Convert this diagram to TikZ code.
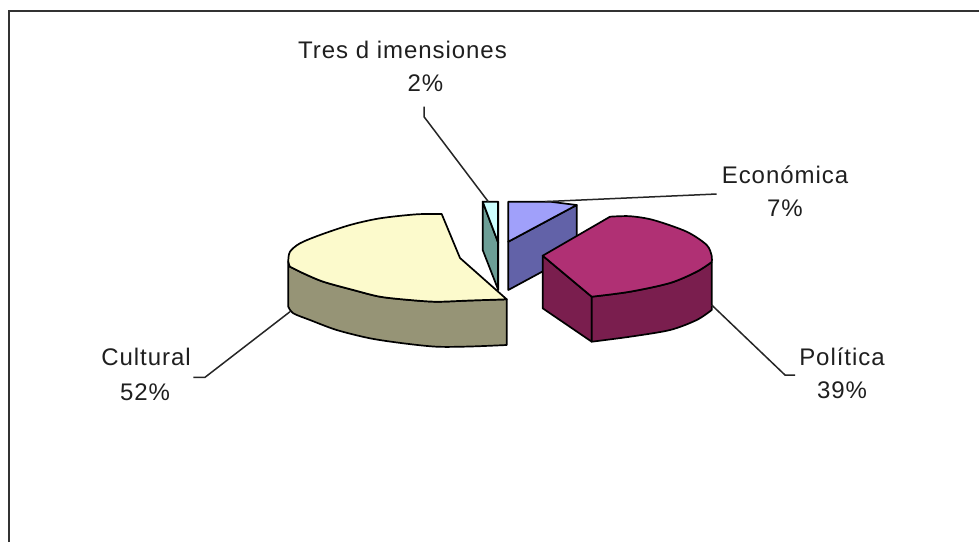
\documentclass[tikz,border=0pt]{standalone}
\usepackage{fontspec}
\setmainfont{Liberation Sans}
\begin{document}
\begin{tikzpicture}[x=1pt,y=-1pt,
  edge/.style={draw=black,line width=1.7pt,line join=round},
  leader/.style={draw=black!85,line width=1.5pt},
  lbl/.style={anchor=base,inner sep=0pt,text=black!88,
    font=\fontsize{24}{28}\selectfont\addfontfeature{LetterSpace=4}},
  frameline/.style={draw=black!80,line width=2pt}]
\definecolor{culTop}{RGB}{252,250,204}
\definecolor{culSide}{RGB}{150,148,118}
\definecolor{triTop}{RGB}{204,255,255}
\definecolor{triSide}{RGB}{108,158,150}
\definecolor{ecoTop}{RGB}{160,160,250}
\definecolor{ecoSide}{RGB}{98,98,168}
\definecolor{polTop}{RGB}{176,48,116}
\definecolor{polSide}{RGB}{122,30,78}
\useasboundingbox (0,0) rectangle (979,542);
\fill[white] (0,0) rectangle (979,542);
% frame
\draw[frameline] (9.3,542) -- (9.3,10.7) -- (979,10.7);

% ---- Cultural ----
\filldraw[edge,fill=culSide] (288.3,261.7) -- (290,266.7)
  -- plot[smooth] coordinates {(290,266.7) (303.3,273.3) (323.3,281.7) (353.3,290) (380,296.7) (410,300) (436.7,301.7) (470,300.5) (506.7,299.3)}
  -- (506.7,345)
  -- plot[smooth] coordinates {(506.7,345) (470,346.5) (436.7,346.7) (403.3,343.3) (370,338.3) (336.7,330) (310,320) (293.3,313.3) (288.3,306.7)}
  -- cycle;
\filldraw[edge,fill=culTop] (441.7,214) -- (460,258) -- (506.7,299.3)
  -- plot[smooth] coordinates {(506.7,299.3) (470,300.5) (436.7,301.7) (410,300) (380,296.7) (353.3,290) (323.3,281.7) (303.3,273.3) (290,266.7)}
  -- plot[smooth] coordinates {(290,266.7) (288.3,261.7) (290,251.7) (300,243.3) (320,235) (350,225) (380,218.3) (416.7,214.3) (441.7,214)}
  -- cycle;

% ---- Tres dimensiones ----
\filldraw[edge,fill=triSide] (482.7,201.7) -- (482.7,250) -- (498.3,290) -- (498.3,243) -- cycle;
\filldraw[edge,fill=triTop] (482.7,201.7) -- (498.3,201.7) -- (498.3,243) -- cycle;
\draw[edge] (498.3,201.7) -- (498.3,290);

% ---- Economica ----
\filldraw[edge,fill=ecoSide] (508.3,241.7) -- (576.7,205) -- (576.7,253) -- (508.3,290) -- cycle;
\filldraw[edge,fill=ecoTop] (508.3,201.7) -- (550,201.7) -- (576.7,205) -- (508.3,241.7) -- cycle;

% ---- Politica ----
\filldraw[edge,fill=polSide] (542.7,255.7) -- (542.7,308.3) -- (591.7,341.7) -- (591.7,296.7) -- cycle;
\filldraw[edge,fill=polSide] (591.7,296.7)
  -- plot[smooth] coordinates {(591.7,296.7) (630,291.7) (670,283) (696.7,271.7) (711.7,262)}
  -- (711.7,310)
  -- plot[smooth] coordinates {(711.7,310) (696.7,320) (670,330) (630,336.7) (591.7,341.7)}
  -- cycle;
\filldraw[edge,fill=polTop] (542.7,255.7) -- (610,216.7)
  -- plot[smooth] coordinates {(610,216.7) (630,216.2) (653.3,220) (686.7,231.7) (706.7,245) (711.7,256) (711.7,262)}
  -- plot[smooth] coordinates {(711.7,262) (696.7,271.7) (670,283) (630,291.7) (591.7,296.7)}
  -- cycle;

% ---- labels ----
\node[lbl] (tri) at (402.5,58.3) {Tres d imensiones};
\node[lbl] (trip) at (425.5,91.7) {2\%};
\node[lbl] (eco) at (785,183.3) {Económica};
\node[lbl] (ecop) at (785,216.7) {7\%};
\node[lbl] (cul) at (146,365) {Cultural};
\node[lbl] (culp) at (145,400) {52\%};
\node[lbl] (pol) at (842,365) {Política};
\node[lbl] (polp) at (842,398.3) {39\%};

% ---- leaders ----
\coordinate (triA) at (424,106.7);
\coordinate (triB) at (424,116.7);
\coordinate (triS) at (488.3,201.7);
\coordinate (ecoS) at (545,201.6);
\coordinate (ecoA) at (716.7,194);
\coordinate (culS) at (290,311.7);
\coordinate (culB) at (205,377.3);
\coordinate (culA) at (193.3,377.3);
\coordinate (polS) at (711.7,305);
\coordinate (polB) at (785,375);
\coordinate (polA) at (795,375);
\draw[leader] (triA) -- (triB) -- (triS);
\draw[leader] (ecoS) -- (ecoA);
\draw[leader] (culS) -- (culB) -- (culA);
\draw[leader] (polS) -- (polB) -- (polA);
\end{tikzpicture}
\end{document}
